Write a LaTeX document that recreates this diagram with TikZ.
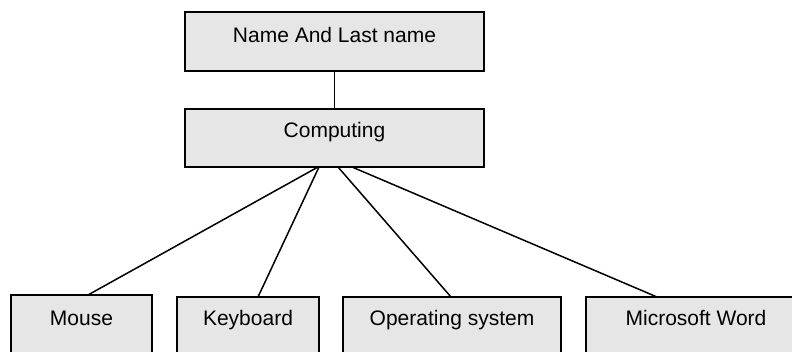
\documentclass[tikz,border=0pt]{standalone}
\usepackage{fontspec}
\setmainfont{Liberation Sans}
\definecolor{boxgray}{HTML}{E6E6E6}
\begin{document}
\begin{tikzpicture}[x=1pt,y=-1pt,
  box/.style={draw=black, fill=boxgray, line width=1.4pt, inner xsep=0pt, inner ysep=0pt, outer sep=0pt, anchor=north west, font=\fontsize{21}{25}\selectfont},
  edgeshade/.style={line width=2.8pt},
  link/.style={line width=1.5pt}]
\useasboundingbox (0,0) rectangle (792,352);
\clip (0,0) rectangle (792,352);
\node[box, minimum width=299pt, text height=31pt, text depth=28pt] (name) at (185,12) {Name And Last name};
\node[box, minimum width=299pt, text height=29pt, text depth=29pt] (comp) at (185,109) {Computing};
\node[box, minimum width=141pt, text height=31pt, text depth=40pt] (mouse) at (11,295) {Mouse};
\node[box, minimum width=142pt, text height=29pt, text depth=40pt] (kbd) at (177,297) {Keyboard};
\node[box, minimum width=218pt, text height=29pt, text depth=40pt] (os) at (343,297) {Operating system};
\node[box, minimum width=220pt, text height=29pt, text depth=40pt] (msw) at (586,297) {Microsoft Word};
\foreach \n in {name,comp,mouse,kbd,os,msw}
  \draw[edgeshade] (\n.north east) -- (\n.south east);
\draw[link] (name.south) -- (comp.north);
\draw[link] ([xshift=133pt]comp.south west) -- ([xshift=77pt]mouse.north west);
\draw[link] ([xshift=134pt]comp.south west) -- ([xshift=81pt]kbd.north west);
\draw[link] ([xshift=153pt]comp.south west) -- ([xshift=108pt]os.north west);
\draw[link] ([xshift=167pt]comp.south west) -- ([xshift=71pt]msw.north west);
\end{tikzpicture}
\end{document}
